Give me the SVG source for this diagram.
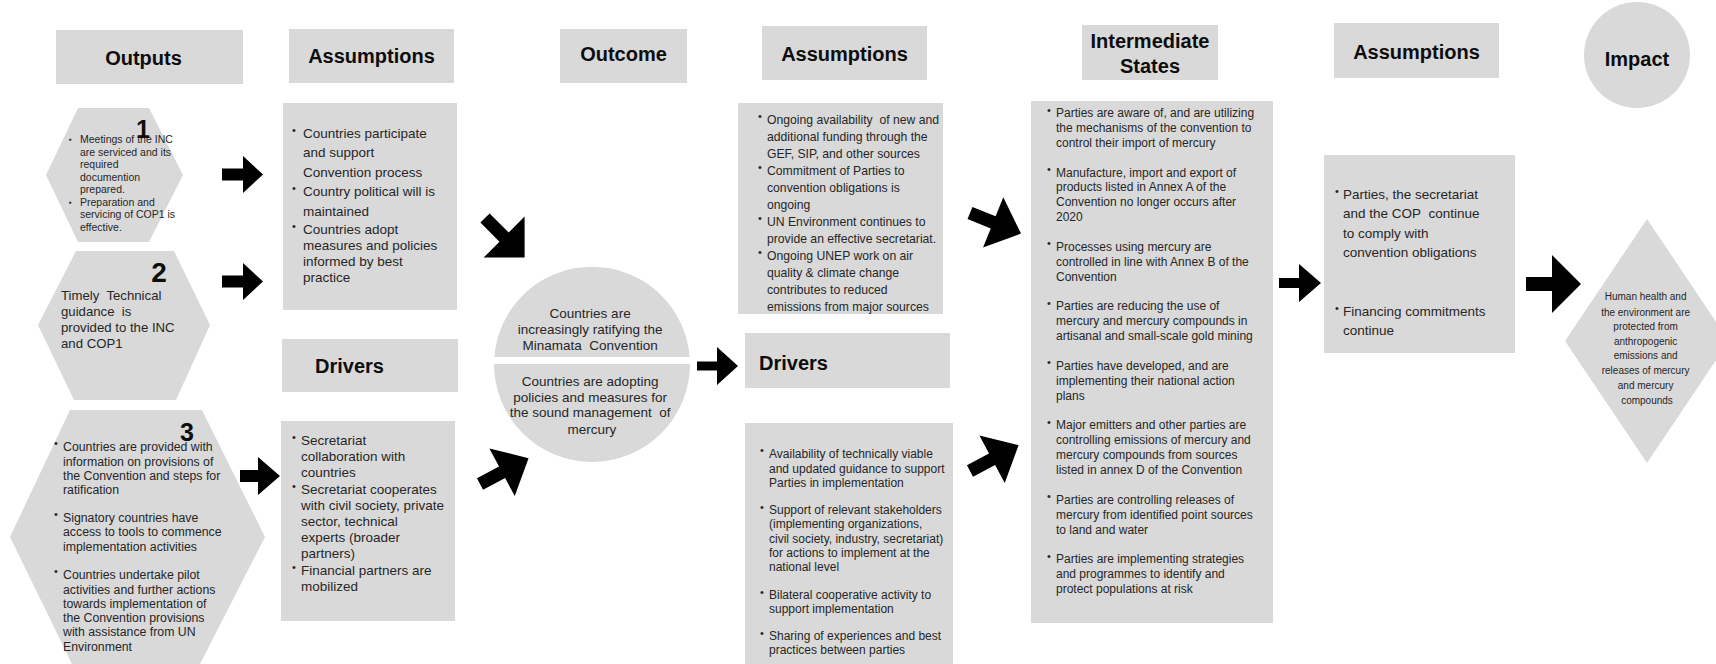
<svg xmlns="http://www.w3.org/2000/svg" width="1716" height="664" viewBox="0 0 1716 664">
  <style>
    .box { fill: #d9d9d9; }
    .hd { font-family: "Liberation Sans", Arial, sans-serif; font-weight: bold; font-size: 20px; fill: #0d0d0d; }
    .num { font-family: "Liberation Sans", Arial, sans-serif; font-weight: bold; fill: #0d0d0d; text-anchor: middle; }
    .tx { font-family: "Liberation Sans", Arial, sans-serif; fill: #262626; }
    .mid { text-anchor: middle; }
    .bu { font-size: 11px; }
    .arrow { fill: #000; }
  </style>
  <defs>
    <!-- thick block arrows pointing along +x, tail at origin -->
    <polygon id="diagA" points="0,-6.5 27,-6.5 27,-29 56,0 27,29 27,6.5 0,6.5"/>
    <polygon id="diagB" points="0,-6.5 25,-6.5 25,-27 55,0 25,27 25,6.5 0,6.5"/>
  </defs>

  <rect width="1716" height="664" fill="#ffffff"/>

  <!-- column headers -->
  <g id="hdr-outputs">
    <rect class="box" x="56" y="30" width="187" height="54"/>
    <text class="hd mid" x="143.5" y="65">Outputs</text>
  </g>
  <g id="hdr-assumptions-1">
    <rect class="box" x="289" y="29" width="165" height="54"/>
    <text class="hd mid" x="371.5" y="63">Assumptions</text>
  </g>
  <g id="hdr-outcome">
    <rect class="box" x="560" y="29" width="127" height="54"/>
    <text class="hd mid" x="623.5" y="61">Outcome</text>
  </g>
  <g id="hdr-assumptions-2">
    <rect class="box" x="762" y="26" width="165" height="54"/>
    <text class="hd mid" x="844.5" y="61">Assumptions</text>
  </g>
  <g id="hdr-intermediate">
    <rect class="box" x="1082" y="25" width="136" height="55"/>
    <text class="hd mid" x="1150" y="47.5">Intermediate</text>
    <text class="hd mid" x="1150" y="72.5">States</text>
  </g>
  <g id="hdr-assumptions-3">
    <rect class="box" x="1334" y="23" width="165" height="55"/>
    <text class="hd mid" x="1416.5" y="59">Assumptions</text>
  </g>
  <g id="hdr-impact">
    <circle class="box" cx="1637" cy="55" r="53"/>
    <text class="hd mid" x="1637" y="66">Impact</text>
  </g>
  <g id="hdr-drivers-1">
    <rect class="box" x="282" y="339" width="176" height="53"/>
    <text class="hd" x="315" y="373">Drivers</text>
  </g>
  <g id="hdr-drivers-2">
    <rect class="box" x="745" y="333" width="205" height="55"/>
    <text class="hd" x="759" y="369.5">Drivers</text>
  </g>

  <!-- outputs -->
  <g id="output-1">
    <polygon class="box" points="78,108 149,108 183,175 149,242 78,242 46,175"/>
    <text class="tx" font-size="10.5">
      <tspan x="69" y="142" font-size="8">▪</tspan><tspan x="80" y="143">Meetings of the INC</tspan>
      <tspan x="80" y="155.5">are serviced and its</tspan>
      <tspan x="80" y="168">required</tspan>
      <tspan x="80" y="180.5">documention</tspan>
      <tspan x="80" y="193">prepared.</tspan>
      <tspan x="69" y="204.5" font-size="8">▪</tspan><tspan x="80" y="205.5">Preparation and</tspan>
      <tspan x="80" y="218">servicing of COP1 is</tspan>
      <tspan x="80" y="231">effective.</tspan>
    </text>
    <text class="num" font-size="25" x="143" y="138">1</text>
  </g>
  <g id="output-2">
    <polygon class="box" points="76,251 174,251 210,325 176,400 74,400 38,325"/>
    <text class="num" font-size="28" x="159" y="282">2</text>
    <text class="tx" font-size="13.2">
      <tspan x="61" y="300">Timely&#160; Technical</tspan>
      <tspan x="61" y="316">guidance&#160; is</tspan>
      <tspan x="61" y="332">provided to the INC</tspan>
      <tspan x="61" y="348">and COP1</tspan>
    </text>
  </g>
  <g id="output-3">
    <polygon class="box" points="70,410 202,410 265,537 200,664 72,664 10,537"/>
    <text class="tx" font-size="12.3">
      <tspan x="54" y="447" class="bu">•</tspan><tspan x="63" y="451">Countries are provided with</tspan>
      <tspan x="63" y="465.5">information on provisions of</tspan>
      <tspan x="63" y="480">the Convention and steps for</tspan>
      <tspan x="63" y="494">ratification</tspan>
      <tspan x="54" y="518" class="bu">•</tspan><tspan x="63" y="522">Signatory countries have</tspan>
      <tspan x="63" y="536">access to tools to commence</tspan>
      <tspan x="63" y="550.5">implementation activities</tspan>
      <tspan x="54" y="575" class="bu">•</tspan><tspan x="63" y="579">Countries undertake pilot</tspan>
      <tspan x="63" y="593.5">activities and further actions</tspan>
      <tspan x="63" y="607.5">towards implementation of</tspan>
      <tspan x="63" y="622">the Convention provisions</tspan>
      <tspan x="63" y="636">with assistance from UN</tspan>
      <tspan x="63" y="650.5">Environment</tspan>
    </text>
    <text class="num" font-size="25" x="187" y="441">3</text>
  </g>

  <!-- first assumptions / drivers -->
  <g id="assumptions-1">
    <rect class="box" x="283" y="103" width="174" height="207"/>
    <text class="tx" font-size="13.5">
      <tspan x="292" y="134" class="bu">•</tspan><tspan x="303" y="138">Countries participate</tspan>
      <tspan x="303" y="157">and support</tspan>
      <tspan x="303" y="176.5">Convention process</tspan>
      <tspan x="292" y="192" class="bu">•</tspan><tspan x="303" y="196">Country political will is</tspan>
      <tspan x="303" y="215.5">maintained</tspan>
      <tspan x="292" y="229.5" class="bu">•</tspan><tspan x="303" y="233.5">Countries adopt</tspan>
      <tspan x="303" y="250">measures and policies</tspan>
      <tspan x="303" y="265.5">informed by best</tspan>
      <tspan x="303" y="282">practice</tspan>
    </text>
  </g>
  <g id="drivers-1">
    <rect class="box" x="281" y="421" width="174" height="200"/>
    <text class="tx" font-size="13.5">
      <tspan x="292" y="441" class="bu">•</tspan><tspan x="301" y="445">Secretariat</tspan>
      <tspan x="301" y="461">collaboration with</tspan>
      <tspan x="301" y="476.5">countries</tspan>
      <tspan x="292" y="489.5" class="bu">•</tspan><tspan x="301" y="493.5">Secretariat cooperates</tspan>
      <tspan x="301" y="509.5">with civil society, private</tspan>
      <tspan x="301" y="525.5">sector, technical</tspan>
      <tspan x="301" y="541.5">experts (broader</tspan>
      <tspan x="301" y="557.5">partners)</tspan>
      <tspan x="292" y="571" class="bu">•</tspan><tspan x="301" y="575">Financial partners are</tspan>
      <tspan x="301" y="590.5">mobilized</tspan>
    </text>
  </g>

  <!-- outcome -->
  <g id="outcome">
    <path class="box" d="M494.3 357 A98 98 0 0 1 689.7 357 Z"/>
    <path class="box" d="M494 364 A98 98 0 1 0 690 364 Z"/>
    <text class="tx mid" font-size="13.5">
      <tspan x="592" y="318">Countries are</tspan>
      <tspan x="592" y="334">increasingly ratifying the</tspan>
      <tspan x="592" y="350">Minamata&#160; Convention</tspan>
      <tspan x="592" y="386">Countries are adopting</tspan>
      <tspan x="592" y="401.5">policies and measures for</tspan>
      <tspan x="592" y="417">the sound management&#160; of</tspan>
      <tspan x="592" y="433.5">mercury</tspan>
    </text>
  </g>

  <!-- second assumptions / drivers -->
  <g id="assumptions-2">
    <rect class="box" x="738" y="103" width="205" height="211"/>
    <text class="tx" font-size="12.2">
      <tspan x="758" y="120" class="bu">•</tspan><tspan x="767" y="123.5">Ongoing availability&#160; of new and</tspan>
      <tspan x="767" y="140.5">additional funding through the</tspan>
      <tspan x="767" y="157.5">GEF, SIP, and other sources</tspan>
      <tspan x="758" y="171" class="bu">•</tspan><tspan x="767" y="174.5">Commitment of Parties to</tspan>
      <tspan x="767" y="191.5">convention obligations is</tspan>
      <tspan x="767" y="208.5">ongoing</tspan>
      <tspan x="758" y="222" class="bu">•</tspan><tspan x="767" y="225.5">UN Environment continues to</tspan>
      <tspan x="767" y="242.5">provide an effective secretariat.</tspan>
      <tspan x="758" y="256" class="bu">•</tspan><tspan x="767" y="259.5">Ongoing UNEP work on air</tspan>
      <tspan x="767" y="276.5">quality &amp; climate change</tspan>
      <tspan x="767" y="293.5">contributes to reduced</tspan>
      <tspan x="767" y="310.5">emissions from major sources</tspan>
    </text>
  </g>
  <g id="drivers-2">
    <rect class="box" x="745" y="423" width="208" height="241"/>
    <text class="tx" font-size="12">
      <tspan x="760" y="454" class="bu">•</tspan><tspan x="769" y="457.5">Availability of technically viable</tspan>
      <tspan x="769" y="472.5">and updated guidance to support</tspan>
      <tspan x="769" y="487">Parties in implementation</tspan>
      <tspan x="760" y="510.5" class="bu">•</tspan><tspan x="769" y="514">Support of relevant stakeholders</tspan>
      <tspan x="769" y="528">(implementing organizations,</tspan>
      <tspan x="769" y="542.5">civil society, industry, secretariat)</tspan>
      <tspan x="769" y="556.5">for actions to implement at the</tspan>
      <tspan x="769" y="571">national level</tspan>
      <tspan x="760" y="595.5" class="bu">•</tspan><tspan x="769" y="599">Bilateral cooperative activity to</tspan>
      <tspan x="769" y="613">support implementation</tspan>
      <tspan x="760" y="636.5" class="bu">•</tspan><tspan x="769" y="640">Sharing of experiences and best</tspan>
      <tspan x="769" y="654">practices between parties</tspan>
    </text>
  </g>

  <!-- intermediate states -->
  <g id="intermediate-states">
    <rect class="box" x="1031" y="101" width="242" height="522"/>
    <text class="tx" font-size="12">
      <tspan x="1047" y="113.5" class="bu">•</tspan><tspan x="1056" y="117">Parties are aware of, and are utilizing</tspan>
      <tspan x="1056" y="131.9">the mechanisms of the convention to</tspan>
      <tspan x="1056" y="146.8">control their import of mercury</tspan>
      <tspan x="1047" y="173" class="bu">•</tspan><tspan x="1056" y="176.5">Manufacture, import and export of</tspan>
      <tspan x="1056" y="191.4">products listed in Annex A of the</tspan>
      <tspan x="1056" y="206.3">Convention no longer occurs after</tspan>
      <tspan x="1056" y="221.1">2020</tspan>
      <tspan x="1047" y="247.4" class="bu">•</tspan><tspan x="1056" y="250.9">Processes using mercury are</tspan>
      <tspan x="1056" y="265.8">controlled in line with Annex B of the</tspan>
      <tspan x="1056" y="280.6">Convention</tspan>
      <tspan x="1047" y="306.9" class="bu">•</tspan><tspan x="1056" y="310.4">Parties are reducing the use of</tspan>
      <tspan x="1056" y="325.3">mercury and mercury compounds in</tspan>
      <tspan x="1056" y="340.1">artisanal and small-scale gold mining</tspan>
      <tspan x="1047" y="366.4" class="bu">•</tspan><tspan x="1056" y="369.9">Parties have developed, and are</tspan>
      <tspan x="1056" y="384.8">implementing their national action</tspan>
      <tspan x="1056" y="399.6">plans</tspan>
      <tspan x="1047" y="425.9" class="bu">•</tspan><tspan x="1056" y="429.4">Major emitters and other parties are</tspan>
      <tspan x="1056" y="444.3">controlling emissions of mercury and</tspan>
      <tspan x="1056" y="459.1">mercury compounds from sources</tspan>
      <tspan x="1056" y="474">listed in annex D of the Convention</tspan>
      <tspan x="1047" y="500.3" class="bu">•</tspan><tspan x="1056" y="503.8">Parties are controlling releases of</tspan>
      <tspan x="1056" y="518.6">mercury from identified point sources</tspan>
      <tspan x="1056" y="533.5">to land and water</tspan>
      <tspan x="1047" y="559.8" class="bu">•</tspan><tspan x="1056" y="563.3">Parties are implementing strategies</tspan>
      <tspan x="1056" y="578.1">and programmes to identify and</tspan>
      <tspan x="1056" y="593">protect populations at risk</tspan>
    </text>
  </g>

  <!-- third assumptions -->
  <g id="assumptions-3">
    <rect class="box" x="1324" y="155" width="191" height="198"/>
    <text class="tx" font-size="13.5">
      <tspan x="1335" y="194.5" class="bu">•</tspan><tspan x="1343" y="198.5">Parties, the secretariat</tspan>
      <tspan x="1343" y="218">and the COP&#160; continue</tspan>
      <tspan x="1343" y="238">to comply with</tspan>
      <tspan x="1343" y="257">convention obligations</tspan>
      <tspan x="1335" y="312" class="bu">•</tspan><tspan x="1343" y="316">Financing commitments</tspan>
      <tspan x="1343" y="335">continue</tspan>
    </text>
  </g>

  <!-- impact -->
  <g id="impact">
    <polygon class="box" points="1647,219 1729,341 1647,463 1565,341"/>
    <text class="tx mid" font-size="10">
      <tspan x="1647" y="300">Human health and</tspan>
      <tspan x="1647" y="315.5">the environment are</tspan>
      <tspan x="1647" y="329.5">protected from</tspan>
      <tspan x="1647" y="344.5">anthropogenic</tspan>
      <tspan x="1647" y="359">emissions and</tspan>
      <tspan x="1647" y="373.5">releases of mercury</tspan>
      <tspan x="1647" y="388.5">and mercury</tspan>
      <tspan x="1647" y="403.5">compounds</tspan>
    </text>
  </g>

  <!-- connectors -->
  <g id="connectors" class="arrow">
    <polygon points="222,168.5 243,168.5 243,156 263,174.5 243,193 243,180.5 222,180.5"/>
    <polygon points="222,275.5 243,275.5 243,263 263,281.5 243,300 243,287.5 222,287.5"/>
    <polygon points="240,470 258,470 258,457 280,476 258,495 258,482 240,482"/>
    <use href="#diagA" transform="translate(485,218) rotate(45)"/>
    <use href="#diagB" transform="translate(480,484) rotate(-28)"/>
    <polygon points="697,361.5 717,361.5 717,347 738,366 717,385 717,370.5 697,370.5"/>
    <use href="#diagB" transform="translate(970,213) rotate(22)"/>
    <use href="#diagB" transform="translate(970,471) rotate(-28)"/>
    <polygon points="1279,278 1299,278 1299,264 1321,283 1299,302 1299,288 1279,288"/>
    <polygon points="1526,277 1552,277 1552,255 1581,284 1552,313 1552,291 1526,291"/>
  </g>
</svg>
